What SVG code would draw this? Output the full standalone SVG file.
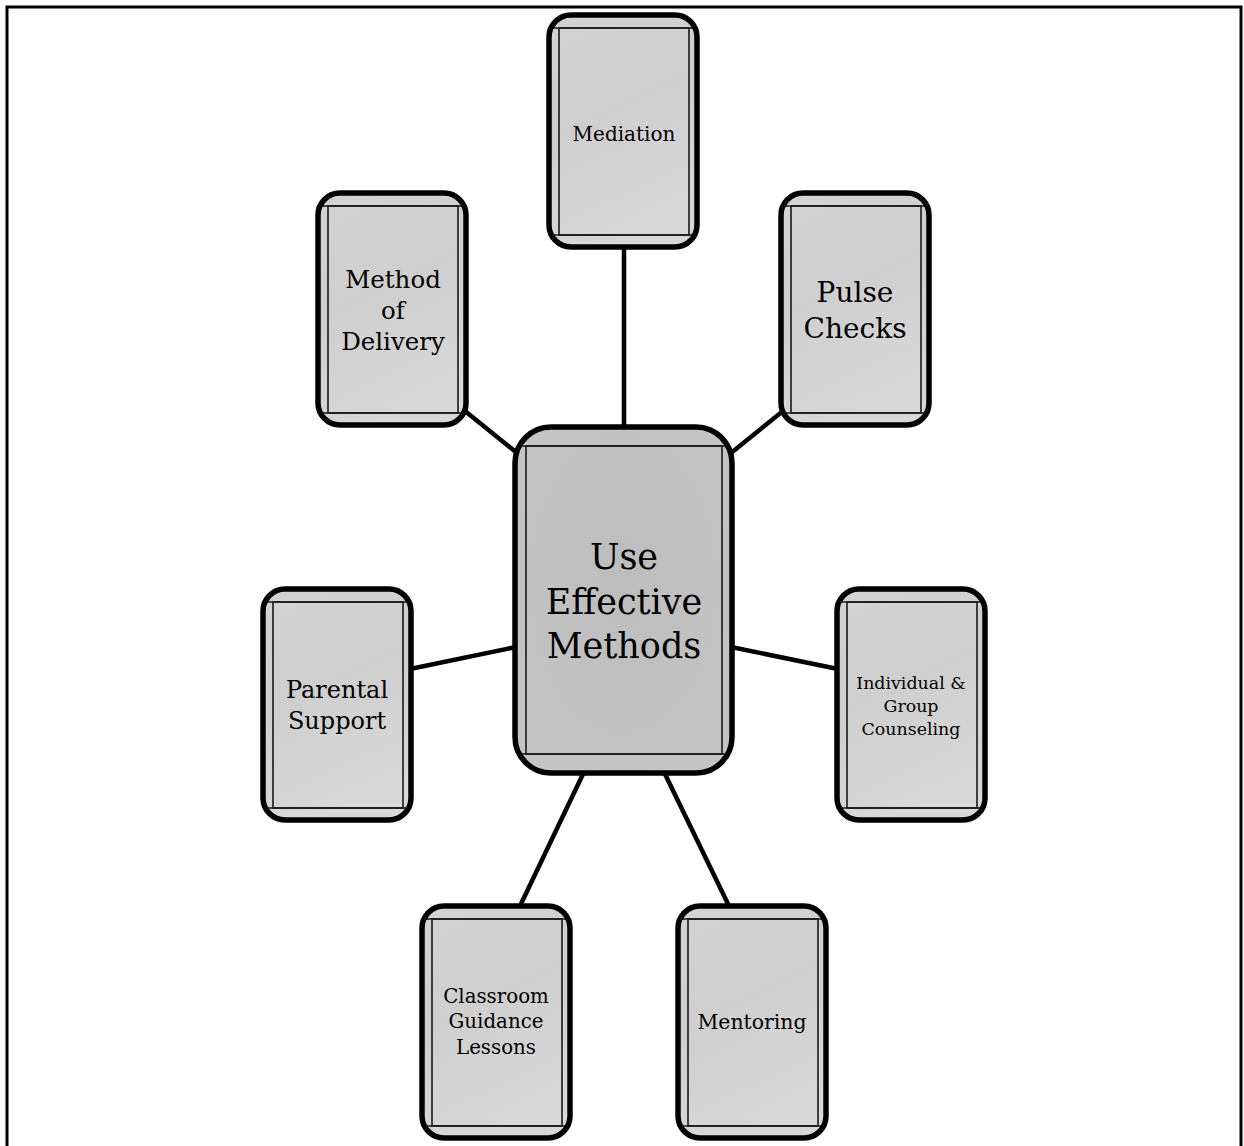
<svg xmlns="http://www.w3.org/2000/svg" width="1244" height="1146" viewBox="0 0 1244 1146">
<style>
  .bg { fill: url(#gSmall); }
  .bgc { fill: url(#gCenter); }
  .outer { fill: none; stroke: #000; stroke-width: 5.5; }
  .inner { fill: none; stroke: #1a1a1a; stroke-width: 1.6; }
  .conn { stroke: #000; stroke-width: 4.5; stroke-linecap: butt; fill: none; }
  text { font-family: "DejaVu Serif", "Liberation Serif", serif; fill: #000; text-anchor: middle; }
</style>
<defs>
  <linearGradient id="gSmall" x1="0" y1="0" x2="0.3" y2="1">
    <stop offset="0" stop-color="#d3d3d3"/>
    <stop offset="0.5" stop-color="#cfcfcf"/>
    <stop offset="1" stop-color="#d8d8d8"/>
  </linearGradient>
  <radialGradient id="gCenter" cx="0.5" cy="0.45" r="0.6">
    <stop offset="0" stop-color="#bdbdbd"/>
    <stop offset="1" stop-color="#c4c4c4"/>
  </radialGradient>
</defs>
<rect x="0" y="0" width="1244" height="1146" fill="#fff"/>
<rect x="7" y="7" width="1234" height="1200" fill="none" stroke="#000" stroke-width="3"/>

<g id="connectors">
  <line class="conn" x1="624" y1="247" x2="624" y2="428"/>
  <line class="conn" x1="465" y1="411" x2="517" y2="453"/>
  <line class="conn" x1="783" y1="411" x2="731" y2="453"/>
  <line class="conn" x1="410" y1="669" x2="516" y2="647"/>
  <line class="conn" x1="731" y1="647" x2="838" y2="669"/>
  <line class="conn" x1="584" y1="772" x2="520" y2="906"/>
  <line class="conn" x1="664" y1="772" x2="729" y2="906"/>
</g>

<g id="node-mediation">
  <rect class="bg" x="549" y="15" width="148" height="232" rx="22"/>
  <rect class="inner" x="559" y="28" width="130" height="207"/>
  <line class="inner" x1="550" y1="28" x2="696" y2="28"/>
  <line class="inner" x1="550" y1="235" x2="696" y2="235"/>
  <rect class="outer" x="549" y="15" width="148" height="232" rx="22"/>
  <text x="624" y="141" font-size="20">Mediation</text>
</g>

<g id="node-method-of-delivery">
  <rect class="bg" x="318" y="193" width="148" height="232" rx="22"/>
  <rect class="inner" x="328" y="206" width="130" height="207"/>
  <line class="inner" x1="319" y1="206" x2="465" y2="206"/>
  <line class="inner" x1="319" y1="413" x2="465" y2="413"/>
  <rect class="outer" x="318" y="193" width="148" height="232" rx="22"/>
  <text font-size="24.5"><tspan x="393" y="288">Method</tspan><tspan x="393" y="319">of</tspan><tspan x="393" y="350">Delivery</tspan></text>
</g>

<g id="node-pulse-checks">
  <rect class="bg" x="781" y="193" width="148" height="232" rx="22"/>
  <rect class="inner" x="791" y="206" width="130" height="207"/>
  <line class="inner" x1="782" y1="206" x2="928" y2="206"/>
  <line class="inner" x1="782" y1="413" x2="928" y2="413"/>
  <rect class="outer" x="781" y="193" width="148" height="232" rx="22"/>
  <text font-size="28"><tspan x="855" y="302">Pulse</tspan><tspan x="855" y="338">Checks</tspan></text>
</g>

<g id="node-center">
  <rect class="bgc" x="515" y="427" width="217" height="346" rx="36"/>
  <rect class="inner" x="526" y="446" width="196" height="308"/>
  <line class="inner" x1="520" y1="446" x2="727" y2="446"/>
  <line class="inner" x1="520" y1="754" x2="727" y2="754" stroke-width="2.2"/>
  <rect class="outer" x="515" y="427" width="217" height="346" rx="36"/>
  <text font-size="35"><tspan x="624" y="569">Use</tspan><tspan x="624" y="614">Effective</tspan><tspan x="624" y="658">Methods</tspan></text>
</g>

<g id="node-parental-support">
  <rect class="bg" x="263" y="589" width="148" height="231" rx="22"/>
  <rect class="inner" x="273" y="602" width="130" height="206"/>
  <line class="inner" x1="264" y1="602" x2="410" y2="602"/>
  <line class="inner" x1="264" y1="808" x2="410" y2="808"/>
  <rect class="outer" x="263" y="589" width="148" height="231" rx="22"/>
  <text font-size="24"><tspan x="337" y="698">Parental</tspan><tspan x="337" y="729">Support</tspan></text>
</g>

<g id="node-individual-group-counseling">
  <rect class="bg" x="837" y="589" width="148" height="231" rx="22"/>
  <rect class="inner" x="847" y="602" width="130" height="206"/>
  <line class="inner" x1="838" y1="602" x2="984" y2="602"/>
  <line class="inner" x1="838" y1="808" x2="984" y2="808"/>
  <rect class="outer" x="837" y="589" width="148" height="231" rx="22"/>
  <text font-size="17.4"><tspan x="911" y="689">Individual &amp;</tspan><tspan x="911" y="712">Group</tspan><tspan x="911" y="735">Counseling</tspan></text>
</g>

<g id="node-classroom-guidance-lessons">
  <rect class="bg" x="422" y="906" width="148" height="232" rx="22"/>
  <rect class="inner" x="432" y="919" width="130" height="207"/>
  <line class="inner" x1="423" y1="919" x2="569" y2="919"/>
  <line class="inner" x1="423" y1="1126" x2="569" y2="1126"/>
  <rect class="outer" x="422" y="906" width="148" height="232" rx="22"/>
  <text font-size="19.8"><tspan x="496" y="1003">Classroom</tspan><tspan x="496" y="1028">Guidance</tspan><tspan x="496" y="1054">Lessons</tspan></text>
</g>

<g id="node-mentoring">
  <rect class="bg" x="678" y="906" width="148" height="232" rx="22"/>
  <rect class="inner" x="688" y="919" width="130" height="207"/>
  <line class="inner" x1="679" y1="919" x2="825" y2="919"/>
  <line class="inner" x1="679" y1="1126" x2="825" y2="1126"/>
  <rect class="outer" x="678" y="906" width="148" height="232" rx="22"/>
  <text x="752" y="1029" font-size="20.4">Mentoring</text>
</g>
</svg>
